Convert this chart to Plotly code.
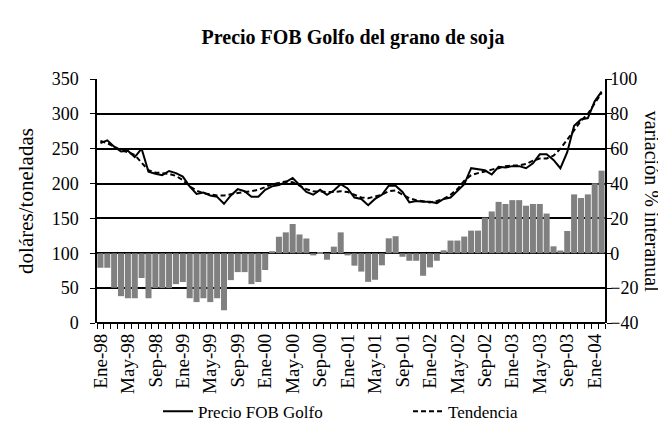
import plotly.graph_objects as go

months = [
    "Ene-98","Feb-98","Mar-98","Abr-98","May-98","Jun-98","Jul-98","Ago-98","Sep-98","Oct-98","Nov-98","Dic-98",
    "Ene-99","Feb-99","Mar-99","Abr-99","May-99","Jun-99","Jul-99","Ago-99","Sep-99","Oct-99","Nov-99","Dic-99",
    "Ene-00","Feb-00","Mar-00","Abr-00","May-00","Jun-00","Jul-00","Ago-00","Sep-00","Oct-00","Nov-00","Dic-00",
    "Ene-01","Feb-01","Mar-01","Abr-01","May-01","Jun-01","Jul-01","Ago-01","Sep-01","Oct-01","Nov-01","Dic-01",
    "Ene-02","Feb-02","Mar-02","Abr-02","May-02","Jun-02","Jul-02","Ago-02","Sep-02","Oct-02","Nov-02","Dic-02",
    "Ene-03","Feb-03","Mar-03","Abr-03","May-03","Jun-03","Jul-03","Ago-03","Sep-03","Oct-03","Nov-03","Dic-03",
    "Ene-04","Feb-04",
]

tick_labels = ["Ene-98","May-98","Sep-98","Ene-99","May-99","Sep-99","Ene-00","May-00","Sep-00",
               "Ene-01","May-01","Sep-01","Ene-02","May-02","Sep-02","Ene-03","May-03","Sep-03","Ene-04"]

precio = [258, 262, 253, 246, 247, 238, 250, 217, 214, 212, 218, 215,
          210, 196, 185, 187, 183, 181, 171, 183, 192, 189, 181, 181,
          191, 196, 198, 202, 208, 198, 188, 184, 191, 184, 190, 199,
          193, 180, 178, 169, 178, 184, 197, 197, 188, 173, 175, 174,
          174, 172, 178, 180, 189, 199, 222, 220, 219, 213, 224, 223,
          225, 225, 222, 229, 242, 242, 234, 222, 245, 283, 292, 294,
          318, 332]

tendencia = [261, 258, 253, 248, 245, 241, 230, 219, 216, 215, 214, 211,
             205, 196, 190, 186, 184, 183, 183, 185, 187, 188, 189, 191,
             195, 199, 201, 203, 202, 197, 192, 189, 188, 188, 188, 189,
             188, 184, 180, 179, 181, 184, 189, 190, 184, 179, 176, 174,
             173, 175, 178, 184, 192, 204, 212, 215, 218, 220, 222, 225,
             226, 226, 228, 233, 236, 236, 240, 250, 263, 277, 290, 300,
             316, 330]

variacion = [-8.3, -8.3, -19.8, -24.6, -25.8, -25.8, -14.2, -25.8, -20, -20, -20, -17.7,
             -16.5, -25.8, -28, -25.8, -28, -25.8, -32.7, -15.4, -10.8, -10.8, -17.7, -16.5,
             -9.6, 1.2, 9.5, 12, 16.8, 10.8, 8.5, -1.2, 0.3, -3.7, 3.8, 12,
             -1.2, -7.1, -10.5, -16.4, -15.2, -6.9, 8.6, 9.8, -2, -4.3, -4.3, -12.9,
             -8.1, -4.3, 1.7, 7.3, 7.3, 9.6, 13, 13, 20.5, 24, 29.5, 28.3,
             30.5, 30.5, 27.3, 28.3, 28.3, 22.8, 4, 1.6, 12.8, 33.8, 31.7, 33.8,
             40.2, 47.4]

FONT = "Liberation Serif, Times New Roman, Times, serif"

fig = go.Figure()
fig.add_trace(go.Bar(x=months, y=variacion, yaxis="y2", marker=dict(color="#808080", line=dict(width=0)),
                     showlegend=False, name="variación % interanual"))
fig.add_trace(go.Scatter(x=months, y=precio, mode="lines", name="Precio FOB Golfo",
                         line=dict(color="black", width=2)))
fig.add_trace(go.Scatter(x=months, y=tendencia, mode="lines", name="Tendencia",
                         line=dict(color="black", width=2, dash="5px,3px")))

ticktext = [m if m in tick_labels else "" for m in months]

fig.update_layout(
    width=666, height=434,
    margin=dict(l=89, r=69, t=71, b=113),
    paper_bgcolor="white", plot_bgcolor="white",
    font=dict(family=FONT, size=16, color="black"),
    title=dict(text="<b>Precio FOB Golfo del grano de soja</b>", x=0.518, xanchor="center",
               y=1 - 29 / 434, yanchor="middle", font=dict(family=FONT, size=20, color="black")),
    bargap=0.12,
    xaxis=dict(type="category", range=[-0.5, len(months) - 0.5], tickmode="array",
               tickvals=months, ticktext=ticktext, tickangle=-90, ticks="outside", ticklen=5,
               tickson="boundaries", tickcolor="black", tickwidth=1, ticklabelstandoff=6,
               showline=False, showgrid=False, zeroline=False,
               tickfont=dict(family=FONT, size=19, color="black")),
    yaxis=dict(range=[0, 350], dtick=50, showgrid=True, gridcolor="black", gridwidth=1.5,
               showline=True, linecolor="black", linewidth=1.5, ticks="outside", ticklen=5,
               tickcolor="black", zeroline=True, zerolinecolor="black", zerolinewidth=1.5,
               ticklabelstandoff=8,
               tickfont=dict(family=FONT, size=18, color="black")),
    yaxis2=dict(range=[-40, 100], dtick=20, overlaying="y", side="right", showgrid=False,
                showline=True, linecolor="black", linewidth=1.5, ticks="outside", ticklen=5,
                tickcolor="black", zeroline=False, ticklabelstandoff=-5,
                tickfont=dict(family=FONT, size=18, color="black")),
    legend=dict(orientation="h", x=(150 - 89) / 508, xanchor="left", y=-0.364, yanchor="middle",
                font=dict(family=FONT, size=17, color="black"), entrywidth=205,
                bgcolor="rgba(0,0,0,0)"),
    annotations=[
        dict(text="doláres/toneladas", xref="paper", yref="paper", x=-0.14, y=0.5,
             xanchor="center", yanchor="middle", textangle=-90, showarrow=False,
             font=dict(family=FONT, size=21, color="black")),
        dict(text="variación % interanual", xref="paper", yref="paper", x=1.093, y=0.5,
             xanchor="center", yanchor="middle", textangle=90, showarrow=False,
             font=dict(family=FONT, size=20, color="black")),
    ],
)

fig.write_html("out.html")
